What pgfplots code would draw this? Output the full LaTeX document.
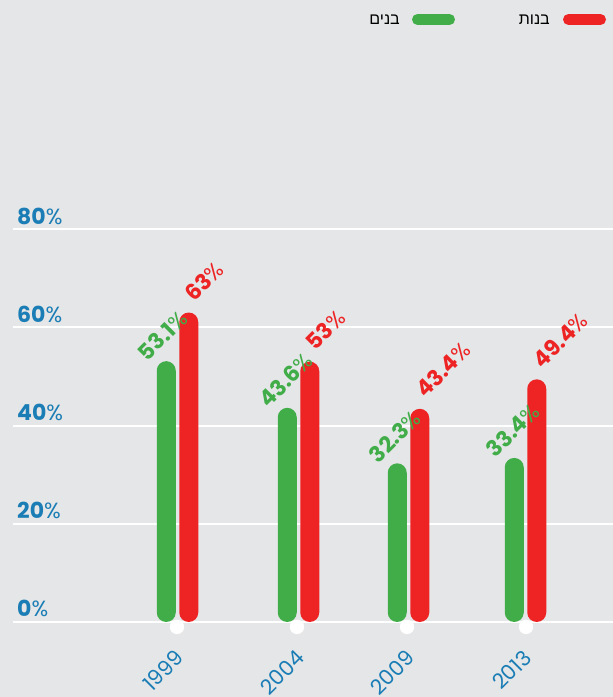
\documentclass[border=0pt]{standalone}
\usepackage{pgfplots}
\pgfplotsset{compat=1.18}
\usepackage{fontspec}
\setmainfont{Poppins}
\newfontfamily\hebfont[Script=Hebrew]{Liberation Sans}
\TeXXeTstate=1

\definecolor{bg}{RGB}{229,230,231}
\definecolor{bgreen}{RGB}{64,173,73}
\definecolor{bred}{RGB}{237,35,36}
\definecolor{axblue}{RGB}{26,125,181}

\newcommand{\pct}{\mdseries\%}

\begin{document}
\begin{tikzpicture}
\path[use as bounding box, fill=bg] (0,0) rectangle (613pt,697pt);
\begin{axis}[
  at={(13pt,75pt)}, anchor=south west,
  scale only axis, width=600pt, height=393pt,
  xmin=13, xmax=613, ymin=0, ymax=80,
  clip=false,
  axis line style={draw=none},
  major tick length=0pt,
  /pgf/number format/assume math mode=true,
  ytick={0,20,40,60,80},
  ymajorgrids,
  major grid style={white, line width=2pt},
  yticklabel={\textbf{\pgfmathprintnumber{\tick}}\pct},
  yticklabel style={anchor=base west, inner sep=0pt, xshift=4pt, yshift=5pt,
    font=\fontsize{22}{22}\selectfont, text=axblue},
  xtick={177.5,298.5,408.5,525.5},
  xticklabels={1999,2004,2009,2013},
  xticklabel style={xshift=2pt, yshift=-32pt, rotate=45, anchor=east, inner sep=0pt,
    font=\fontsize{21}{21}\selectfont, text=axblue},
]
% boys
\addplot[ybar, bar width=19pt, bar shift=-11.25pt, fill=bgreen, draw=none,
  rounded corners=9.5pt,
  nodes near coords={\textbf{\pgfmathprintnumber{\pgfplotspointmeta}}\pct},
  nodes near coords style={xshift=-30pt, yshift=-1pt, rotate=45, anchor=base west,
    inner sep=0pt, text=bgreen, font=\fontsize{22}{22}\selectfont}]
  coordinates {(177.5,53.1) (298.5,43.6) (408.5,32.3) (525.5,33.4)};
% girls
\addplot[ybar, bar width=19pt, bar shift=11.25pt, fill=bred, draw=none,
  rounded corners=9.5pt,
  nodes near coords={\textbf{\pgfmathprintnumber{\pgfplotspointmeta}}\pct},
  nodes near coords style={xshift=17pt, yshift=10pt, rotate=45, anchor=base west,
    inner sep=0pt, text=bred, font=\fontsize{22}{22}\selectfont}]
  coordinates {(177.5,63) (298.5,53) (408.5,43.4) (525.5,49.4)};
% white dots under each pair
\addplot[only marks, mark=*, mark size=7pt, color=white]
  coordinates {(177,-1) (297,-1) (407,-1) (526,-1)};
\end{axis}
% legend
\draw[line width=11pt, line cap=round, bred] (568.5pt,677.5pt) -- (600.5pt,677.5pt);
\draw[line width=11pt, line cap=round, bgreen] (417.5pt,677.5pt) -- (449.5pt,677.5pt);
\node[anchor=base east, inner sep=0pt, font=\hebfont\fontsize{16}{16}\selectfont]
  at (550pt,672pt) {\beginR בנות\endR};
\node[anchor=base east, inner sep=0pt, font=\hebfont\fontsize{16}{16}\selectfont]
  at (400pt,672pt) {\beginR בנים\endR};
\end{tikzpicture}
\end{document}
